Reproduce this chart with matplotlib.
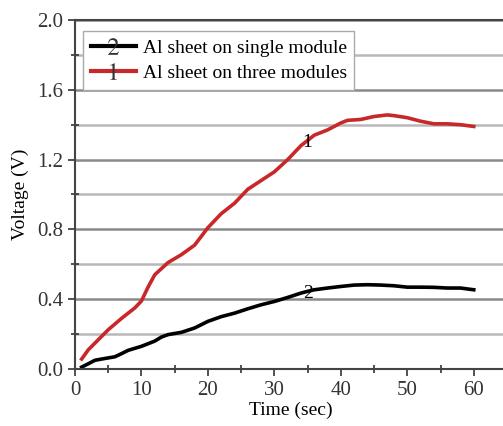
import numpy as np
import matplotlib
matplotlib.use('Agg')
from matplotlib import pyplot as plt
from matplotlib.lines import Line2D
from matplotlib.ticker import MultipleLocator

plt.rcParams['font.family'] = ['Liberation Serif', 'DejaVu Serif']
plt.rcParams['mathtext.fontset'] = 'stix'

# curve 1: Al sheet on three modules
t_three = [1, 2, 5, 7, 9, 10, 11, 12, 14, 16, 18, 20, 22, 24, 26, 28, 30, 32, 34, 35,
           36, 38, 40, 41, 43, 45, 47, 48, 50, 52, 54, 56, 58, 60]
v_three = [0.057, 0.11, 0.225, 0.29, 0.35, 0.39, 0.47, 0.54, 0.61, 0.655, 0.71, 0.81,
           0.89, 0.95, 1.03, 1.08, 1.13, 1.20, 1.28, 1.31, 1.34, 1.37, 1.41, 1.425,
           1.43, 1.447, 1.456, 1.452, 1.44, 1.42, 1.405, 1.405, 1.40, 1.39]

# curve 2: Al sheet on single module
t_single = [1, 2, 3, 4, 6, 7, 8, 10, 11, 12, 13, 14, 16, 18, 19, 20, 22, 24, 26, 28,
            30, 32, 34, 35, 36, 38, 40, 42, 44, 46, 48, 50, 52, 54, 56, 58, 60]
v_single = [0.011, 0.03, 0.05, 0.057, 0.07, 0.088, 0.107, 0.13, 0.145, 0.16, 0.183,
            0.197, 0.21, 0.235, 0.254, 0.273, 0.30, 0.32, 0.345, 0.368, 0.387, 0.41,
            0.435, 0.445, 0.454, 0.464, 0.473, 0.481, 0.483, 0.481, 0.477, 0.469,
            0.469, 0.468, 0.464, 0.464, 0.454]

labels = ['Al sheet on single module', 'Al sheet on three modules']
red = '#c8282a'

fig = plt.figure(figsize=(5.03, 4.26), dpi=100)
ax = fig.add_axes([75/503, 57/426, 432/503, 349/426])

ax.yaxis.set_minor_locator(MultipleLocator(0.2))
ax.yaxis.set_major_locator(MultipleLocator(0.4))
ax.xaxis.set_major_locator(MultipleLocator(10))
ax.xaxis.set_minor_locator(MultipleLocator(5))
ax.grid(which='major', axis='y', color='#8a8a8a', lw=1.8)
ax.grid(which='minor', axis='y', color='#b8b8b8', lw=1.8)
ax.set_axisbelow(True)

ax.plot(t_three, v_three, color=red, lw=2.6)
ax.plot(t_single, v_single, color='black', lw=2.6)

ax.text(35, 1.30, '1', fontsize=14, ha='center', va='center')
ax.text(35, 0.43, '2', fontsize=14, ha='center', va='center')

ax.set_xlim(0, 65)
ax.set_ylim(0, 2.0)
ax.set_yticks([0.0, 0.4, 0.8, 1.2, 1.6, 2.0])
ax.set_yticklabels(['0.0', '0.4', '0.8', '1.2', '1.6', '2.0'])
ax.tick_params(which='major', direction='out', length=5, width=1.2, labelsize=15, colors='#333333')
ax.tick_params(which='minor', direction='inout', length=6, width=1.2, colors='#333333')
for s in ax.spines.values():
    s.set_color('#444444')
    s.set_linewidth(1.5)

ax.set_xlabel('Time (sec)', fontsize=14, labelpad=1)
ax.set_ylabel('Voltage (V)', fontsize=14, labelpad=6)

handles = [Line2D([0], [0], color='black', lw=3, marker='$2$', markersize=12,
                  markeredgewidth=0, markerfacecolor='#333333'),
           Line2D([0], [0], color=red, lw=3, marker='$1$', markersize=12,
                  markeredgewidth=0, markerfacecolor='#333333')]
leg = ax.legend(handles, labels, loc='upper left', bbox_to_anchor=(0.019, 0.968),
                fontsize=14, frameon=True, fancybox=False, framealpha=1,
                edgecolor='#aaaaaa', handlelength=2.3, handletextpad=0.35,
                borderpad=0.4, labelspacing=0.4, borderaxespad=0)
leg.get_frame().set_linewidth(1.0)

fig.savefig('out.png', dpi=100)
